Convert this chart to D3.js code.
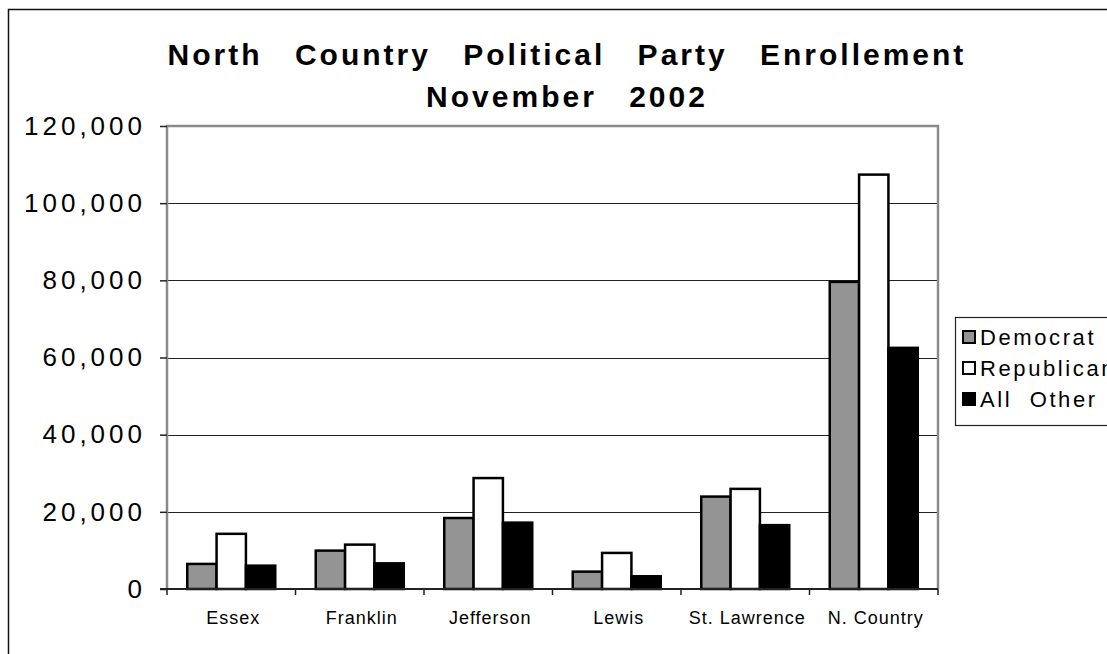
<!DOCTYPE html>
<html lang="en">
<head>
    <meta charset="UTF-8">
    <title>North Country Political Party Enrollement</title>
    <script src="https://cdn.jsdelivr.net/npm/d3@7"></script>
    <style>
        body { margin: 0; background: #fff; }
        svg { display: block; }
        text { font-family: 'Liberation Sans', Arial, sans-serif; }
    </style>
</head>
<body>
<script>
    const counties = ["Essex", "Franklin", "Jefferson", "Lewis", "St. Lawrence", "N. Country"];
    const parties = ["Democrat", "Republican", "All  Other"];
    const democrat = [6500, 9950, 18400, 4500, 23950, 79600];
    const republican = [14300, 11500, 28750, 9350, 25950, 107400];
    const allOther = [6050, 6650, 17200, 3300, 16550, 62500];
    const yTicks = [0, 20000, 40000, 60000, 80000, 100000, 120000];
    const colors = ["#949494", "#ffffff", "#000000"];

    const rows = counties.map((c, i) => ({
        county: c,
        values: [democrat[i], republican[i], allOther[i]]
    }));

    const W = 1107, H = 654;
    const plotL = 167, plotR = 938, plotT = 126, plotB = 589;

    const svg = d3.select("body").append("svg").attr("width", W).attr("height", H);

    // outer chart border (cropped)
    svg.append("path")
        .attr("d", `M8.5,${H} V9.5 H${W}`)
        .attr("fill", "none").attr("stroke", "#111").attr("stroke-width", 1.5);

    const x0 = d3.scaleBand().domain(counties).range([plotL, plotR]).paddingInner(0).paddingOuter(0);
    const x1 = d3.scaleBand().domain(d3.range(3)).range([0, x0.bandwidth()]).paddingInner(0).paddingOuter(0.69);
    const y = d3.scaleLinear().domain([0, 120000]).range([plotB, plotT]);

    // gridlines
    svg.append("g")
        .selectAll("line")
        .data(yTicks.slice(1, -1))
        .join("line")
        .attr("x1", plotL).attr("x2", plotR)
        .attr("y1", d => Math.round(y(d)) + 0.5).attr("y2", d => Math.round(y(d)) + 0.5)
        .attr("stroke", "#222").attr("stroke-width", 1.2);

    // plot frame: gray on left/top/right
    svg.append("path")
        .attr("d", `M${plotL},${plotB} V${plotT} H${plotR} V${plotB}`)
        .attr("fill", "none").attr("stroke", "#8a8a8a").attr("stroke-width", 2.5);

    // y axis
    const yAxis = svg.append("g")
        .attr("transform", `translate(${plotL},0)`)
        .call(d3.axisLeft(y).tickValues(yTicks).tickSize(7).tickPadding(14)
            .tickFormat(d3.format(",")));
    yAxis.select(".domain").remove();
    yAxis.selectAll(".tick line").attr("stroke", "#222").attr("stroke-width", 1.5);
    yAxis.selectAll(".tick text")
        .attr("fill", "#000")
        .style("font-size", "26px")
        .style("letter-spacing", "4px");

    // bars
    svg.append("g")
        .selectAll("g")
        .data(rows)
        .join("g")
        .attr("transform", d => `translate(${x0(d.county)},0)`)
        .selectAll("rect")
        .data(d => d.values)
        .join("rect")
        .attr("x", (d, i) => x1(i))
        .attr("y", d => y(d))
        .attr("width", x1.bandwidth())
        .attr("height", d => plotB - y(d))
        .attr("fill", (d, i) => colors[i])
        .attr("stroke", "#000").attr("stroke-width", 2.5);

    // x axis
    const xAxisG = svg.append("g").attr("transform", `translate(0,${plotB})`);
    xAxisG.append("line")
        .attr("x1", plotL - 7).attr("x2", plotR)
        .attr("stroke", "#222").attr("stroke-width", 2);
    xAxisG.selectAll(".sep")
        .data(counties.concat([null]))
        .join("line")
        .attr("class", "sep")
        .attr("x1", (d, i) => i < counties.length ? x0(d) : plotR)
        .attr("x2", (d, i) => i < counties.length ? x0(d) : plotR)
        .attr("y1", 0).attr("y2", 6)
        .attr("stroke", "#222").attr("stroke-width", 1.5);
    xAxisG.selectAll(".lbl")
        .data(counties)
        .join("text")
        .attr("class", "lbl")
        .attr("x", d => x0(d) + x0.bandwidth() / 2 + 2)
        .attr("y", 35)
        .attr("text-anchor", "middle")
        .style("font-size", "18px")
        .style("letter-spacing", "1px")
        .text(d => d);

    // title
    const title = svg.append("text")
        .attr("text-anchor", "middle")
        .style("font-size", "30px")
        .style("font-weight", "bold")
        .style("letter-spacing", "3px")
        .style("word-spacing", "21px");
    title.append("tspan").attr("x", 567).attr("y", 65).text("North Country Political Party Enrollement");
    title.append("tspan").attr("x", 567).attr("y", 107).text("November 2002");

    // legend
    const legend = svg.append("g").attr("transform", "translate(955,317)");
    legend.append("rect")
        .attr("x", 0.5).attr("y", 0.5).attr("width", 200).attr("height", 108)
        .attr("fill", "#fff").attr("stroke", "#222").attr("stroke-width", 1.2);
    const item = legend.selectAll(".item")
        .data(parties)
        .join("g")
        .attr("class", "item")
        .attr("transform", (d, i) => `translate(0,${20 + i * 31})`);
    item.append("rect")
        .attr("x", 8).attr("y", -6).attr("width", 12).attr("height", 12)
        .attr("fill", (d, i) => colors[i])
        .attr("stroke", "#000").attr("stroke-width", 2);
    item.append("text")
        .attr("x", 25).attr("y", 8)
        .style("font-size", "22px")
        .style("letter-spacing", "2.6px")
        .style("white-space", "pre")
        .attr("xml:space", "preserve")
        .text(d => d);
</script>
</body>
</html>
